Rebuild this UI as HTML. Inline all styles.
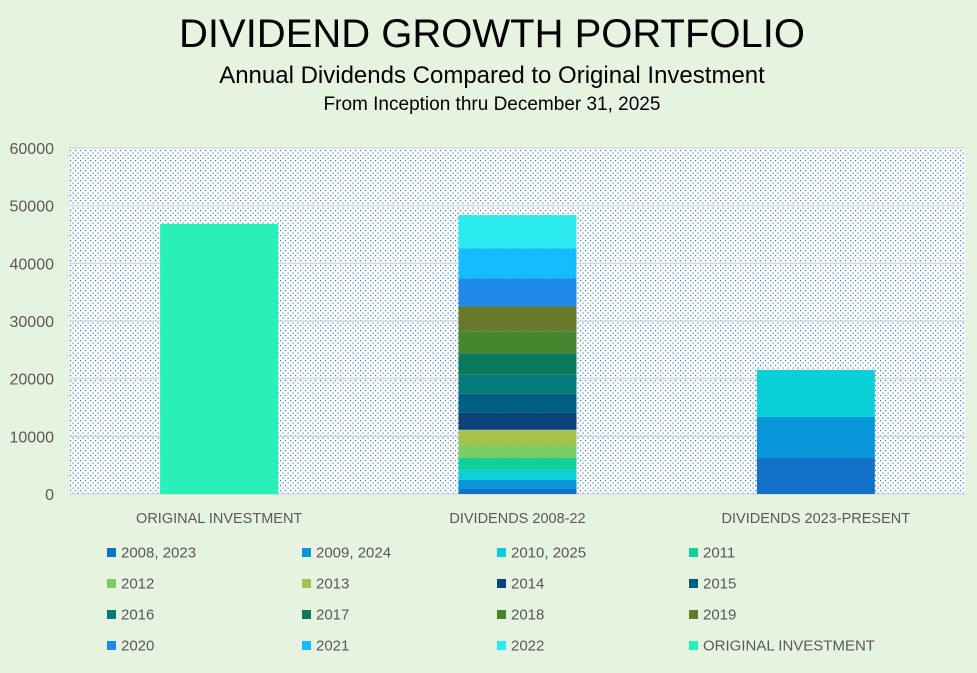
<!DOCTYPE html>
<html><head><meta charset="utf-8"><style>
body{margin:0;background:#e6f3e0;font-family:"Liberation Sans",sans-serif}
svg text{font-family:"Liberation Sans",sans-serif}
</style></head><body>
<svg id="c" width="977" height="668" xmlns="http://www.w3.org/2000/svg">
<defs><pattern id="dots" width="5" height="5" patternUnits="userSpaceOnUse"><rect width="5" height="5" fill="#fff"/><rect x="0" y="0" width="1.2" height="1.2" fill="#2a80e0"/><rect x="2.5" y="2.5" width="1.2" height="1.2" fill="#2a80e0"/></pattern></defs>
<rect width="977" height="668" fill="#e6f3e0"/>
<text x="492" y="47" font-size="40" text-anchor="middle" fill="#000">DIVIDEND GROWTH PORTFOLIO</text>
<text x="492" y="83" font-size="24" text-anchor="middle" fill="#000">Annual Dividends Compared to Original Investment</text>
<text x="492" y="110" font-size="19" text-anchor="middle" fill="#000">From Inception thru December 31, 2025</text>
<rect x="70" y="148" width="895" height="346" fill="url(#dots)"/>
<g id="grid"></g><g id="bars"></g><g id="axis"></g><g id="legend"></g>
</svg>
<script>
const categories=["ORIGINAL INVESTMENT","DIVIDENDS 2008-22","DIVIDENDS 2023-PRESENT"];
const seriesNames=["2008, 2023","2009, 2024","2010, 2025","2011","2012","2013","2014","2015","2016","2017","2018","2019","2020","2021","2022","ORIGINAL INVESTMENT"];
const seriesColors=["#1170c8","#0797d8","#0ad0d8","#10cf98","#7acd62","#a5c34a","#0b427a","#005e80","#077a7c","#0b7a5a","#46862e","#687a2a","#208ae8","#15bcff","#2aeaf0","#29efb8"];
const dividends0822=[870,1565,1740,2090,2210,2660,2960,3300,3300,3700,3830,4300,4870,5220,5740];
const dividends23=[6240,7110,8150];
const original=[46820];
const yTicks=[0,10000,20000,30000,40000,50000,60000];
const NS="http://www.w3.org/2000/svg";
const x0=70,x1=965,yTop=148,yBot=494,yMax=60000;
const yS=v=>yBot-(v/yMax)*(yBot-yTop);
const bw=(x1-x0)/categories.length;
const xC=i=>x0+bw*(i+0.5);
const barW=118;
function mk(t,a,p){const e=document.createElementNS(NS,t);for(const k in a)e.setAttribute(k,a[k]);p.appendChild(e);return e;}
const grid=document.getElementById('grid'),bars=document.getElementById('bars'),axis=document.getElementById('axis'),leg=document.getElementById('legend');
yTicks.forEach(v=>{
 const l=mk('line',{x1:x0,x2:x1,y1:yS(v),y2:yS(v),stroke:'#d9d9d9','stroke-width':1.5},grid);
 
 
 const t=mk('text',{x:54,y:yS(v)+6,'font-size':16,'text-anchor':'end',fill:'#595959'},axis);t.textContent=v;
 
 
});
function stack(ci,vals,colorIdx){
 let cum=0;
 vals.forEach((v,k)=>{
  const r=mk('rect',{x:xC(ci)-barW/2,y:yS(cum+v),width:barW,height:yS(cum)-yS(cum+v),fill:seriesColors[colorIdx(k)]},bars);
  
  
  cum+=v;
 });
}
stack(0,original,()=>15);
stack(1,dividends0822,k=>k);
stack(2,dividends23,k=>k);
categories.forEach((c,i)=>{
 const t=mk('text',{x:xC(i),y:523,'font-size':14.5,'text-anchor':'middle',fill:'#595959'},axis);t.textContent=c;
 
 
});
const lx=[107,302,497,689],ly=[552,583,614,645];
seriesNames.forEach((n,i)=>{
 const g=mk('g',{},leg);
 
 
 const x=lx[i%4],y=ly[Math.floor(i/4)];
 mk('rect',{x:x,y:y-4,width:9,height:9,fill:seriesColors[i]},g);
 const t=mk('text',{x:x+14,y:y+5.5,'font-size':15,fill:'#595959'},g);t.textContent=n;
});
</script>
</body></html>
